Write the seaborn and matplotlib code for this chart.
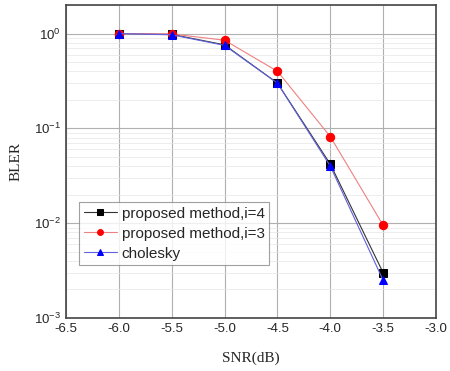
import pandas as pd
import numpy as np
import matplotlib
matplotlib.use('Agg')
import matplotlib.pyplot as plt
import seaborn as sns
from matplotlib.ticker import LogLocator, MultipleLocator, FormatStrFormatter

sns.set_style('white')
plt.rcParams['font.family'] = ['Liberation Sans', 'DejaVu Sans']

snr = [-6.0, -5.5, -5.0, -4.5, -4.0, -3.5]
bler_i4 = [1.0, 0.98, 0.76, 0.30, 0.042, 0.0030]
bler_i3 = [1.0, 0.99, 0.85, 0.40, 0.082, 0.0095]
bler_chol = [1.0, 0.97, 0.75, 0.30, 0.040, 0.0025]

labels = ['proposed method,i=4', 'proposed method,i=3', 'cholesky']
colors = ['black', 'red', 'blue']
line_colors = ['#333333', '#f08080', '#6060e0']
markers = ['s', 'o', '^']


def build_frame():
    frames = []
    for lab, vals in zip(labels, [bler_i4, bler_i3, bler_chol]):
        frames.append(pd.DataFrame({'SNR': snr, 'BLER': vals, 'method': lab}))
    return pd.concat(frames, ignore_index=True)


def draw(df):
    fig = plt.figure(figsize=(4.5, 3.71), dpi=100)
    ax = fig.add_axes([66 / 450, 1 - 318 / 371, 370 / 450, 313 / 371])

    for lab, col, lc, mk in zip(labels, colors, line_colors, markers):
        sub = df[df.method == lab]
        sns.lineplot(data=sub, x='SNR', y='BLER', ax=ax, color=lc, marker=mk,
                     markersize=6, markeredgecolor=col, markerfacecolor=col,
                     linewidth=0.8, label=lab)

    ax.set_yscale('log')
    ax.set_xlim(-6.5, -3.0)
    ax.set_ylim(1e-3, 2.0)
    ax.xaxis.set_major_locator(MultipleLocator(0.5))
    ax.xaxis.set_major_formatter(FormatStrFormatter('%.1f'))
    ax.yaxis.set_major_locator(LogLocator(base=10, numticks=10))
    ax.yaxis.set_minor_locator(LogLocator(base=10, subs=np.arange(2, 10), numticks=20))

    ax.grid(True, which='major', color='#b0b0b0', linewidth=0.8)
    ax.grid(True, which='minor', color='#e6e6e6', linewidth=0.5)
    ax.tick_params(axis='both', which='major', direction='in', length=4,
                   labelsize=9.5, color='#333333')
    ax.tick_params(axis='y', which='minor', direction='in', length=2, color='#333333')
    for s in ax.spines.values():
        s.set_color('#444444')
        s.set_linewidth(1.2)

    ax.set_xlabel('SNR(dB)', family='Liberation Serif', fontsize=11, labelpad=12)
    ax.set_ylabel('BLER', family='Liberation Serif', fontsize=11, labelpad=8)

    leg = ax.legend(loc='upper left', bbox_to_anchor=(13 / 370, 1 - 197 / 313),
                    fontsize=11, frameon=True, fancybox=False, edgecolor='#888888',
                    handlelength=2.2, borderpad=0.3, labelspacing=0.4,
                    handletextpad=0.3, borderaxespad=0, markerscale=0.7)
    leg.get_frame().set_linewidth(0.8)

    plt.savefig('out.png', dpi=100)


def main():
    df = build_frame()
    draw(df)


if __name__ == "__main__":
    main()
